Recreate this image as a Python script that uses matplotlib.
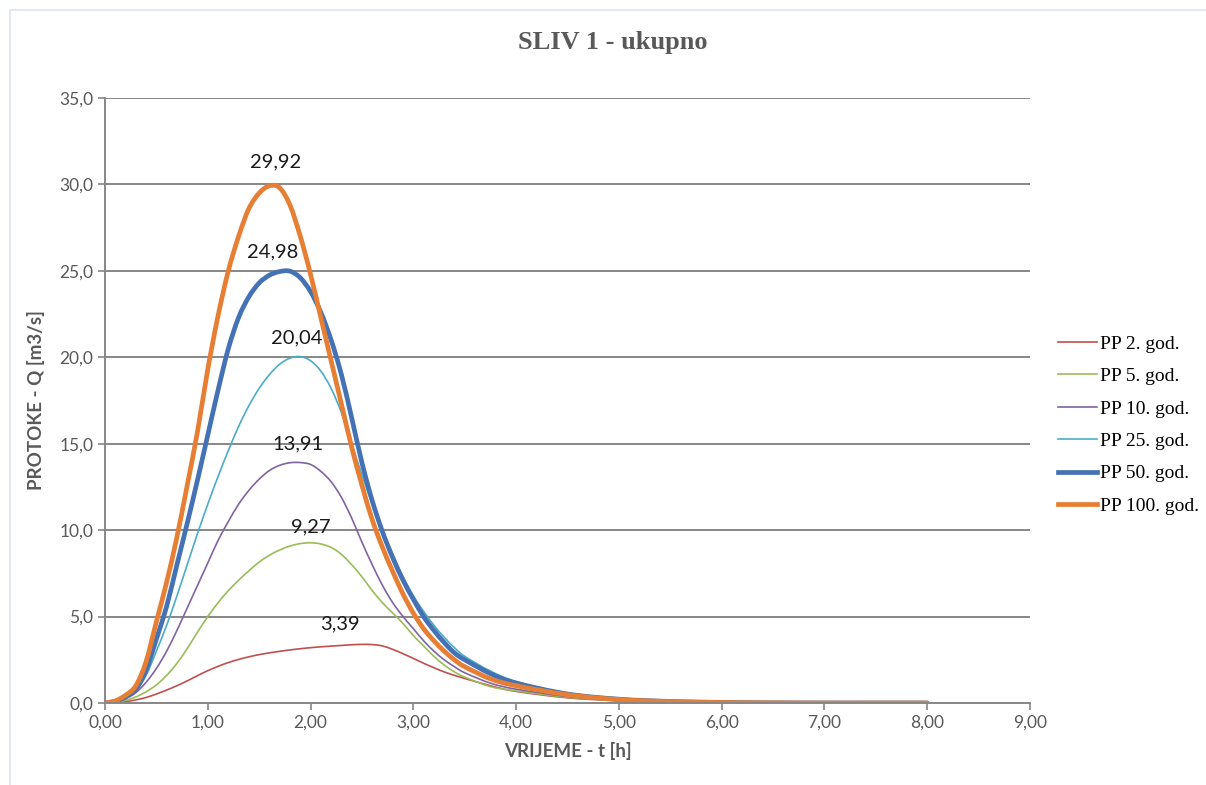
import matplotlib.pyplot as plt
from matplotlib.patches import Rectangle, PathPatch
from matplotlib.path import Path
from matplotlib.lines import Line2D
from matplotlib.ticker import FuncFormatter

# vrijeme [h]
t = [0.0, 0.1, 0.2, 0.3, 0.4, 0.5, 0.6, 0.7, 0.8, 0.9,
     1.0, 1.1, 1.2, 1.3, 1.4, 1.5, 1.6, 1.7, 1.8, 1.9,
     2.0, 2.1, 2.2, 2.3, 2.4, 2.5, 2.6, 2.7, 2.8, 2.9,
     3.0, 3.1, 3.2, 3.3, 3.4, 3.5, 3.75, 4.0, 4.5, 5.0,
     5.5, 6.0, 6.5, 7.0, 7.5, 8.0]

# protoke Q [m3/s]
q_pp2 = [0, 0.02, 0.08, 0.18, 0.32, 0.52, 0.75, 1.0, 1.28, 1.58,
         1.87, 2.12, 2.34, 2.52, 2.67, 2.8, 2.9, 2.99, 3.07, 3.14,
         3.2, 3.25, 3.29, 3.33, 3.37, 3.39, 3.38, 3.3, 3.1, 2.85,
         2.58, 2.3, 2.04, 1.8, 1.6, 1.42, 1.0, 0.67, 0.3, 0.13,
         0.05, 0.02, 0.01, 0, 0, 0]
q_pp5 = [0, 0.04, 0.15, 0.35, 0.65, 1.05, 1.6, 2.3, 3.15, 4.1,
         5.0, 5.8, 6.5, 7.1, 7.65, 8.15, 8.55, 8.85, 9.08, 9.22,
         9.27, 9.2, 9.0, 8.6, 8.0, 7.3, 6.5, 5.8, 5.2, 4.6,
         3.9, 3.3, 2.7, 2.2, 1.8, 1.5, 0.95, 0.7, 0.33, 0.15,
         0.06, 0.02, 0.01, 0, 0, 0]
q_pp10 = [0, 0.05, 0.25, 0.6, 1.2, 2.0, 3.0, 4.2, 5.5, 6.8,
          8.1, 9.4, 10.5, 11.5, 12.3, 12.95, 13.45, 13.75, 13.9, 13.91,
          13.8, 13.4, 12.8, 11.9, 10.7, 9.3, 8.0, 6.8, 5.8, 5.0,
          4.3, 3.6, 3.0, 2.5, 2.1, 1.75, 1.15, 0.8, 0.38, 0.17,
          0.07, 0.03, 0.01, 0, 0, 0]
q_pp25 = [0, 0.08, 0.3, 0.7, 1.6, 3.0, 4.5, 6.2, 8.0, 9.8,
          11.5, 13.1, 14.6, 16.0, 17.2, 18.2, 19.0, 19.6, 19.95, 20.04,
          19.8, 19.2, 18.2, 16.8, 15.0, 13.2, 11.5, 10.0, 8.6, 7.3,
          6.2, 5.3, 4.5, 3.8, 3.2, 2.7, 1.85, 1.25, 0.55, 0.24,
          0.1, 0.04, 0.015, 0, 0, 0]
q_pp50 = [0, 0.1, 0.35, 0.8, 1.9, 3.7, 5.6, 8.0, 10.4, 12.9,
          15.5, 18.1, 20.5, 22.3, 23.5, 24.3, 24.75, 24.96, 24.98, 24.6,
          23.8, 22.6, 21.0, 19.0, 16.5, 13.9, 11.7, 9.9, 8.4, 7.1,
          6.0, 5.0, 4.2, 3.5, 2.9, 2.5, 1.7, 1.15, 0.52, 0.22,
          0.09, 0.035, 0.01, 0, 0, 0]
q_pp100 = [0, 0.12, 0.45, 1.0, 2.4, 4.7, 7.0, 9.6, 12.6, 15.7,
           19.3, 22.4, 25.0, 27.0, 28.6, 29.5, 29.92, 29.8, 28.8, 27.0,
           24.8, 22.3, 19.8, 17.3, 14.8, 12.6, 10.6, 9.0, 7.6, 6.3,
           5.2, 4.3, 3.6, 3.0, 2.5, 2.1, 1.4, 1.0, 0.48, 0.2,
           0.08, 0.03, 0.01, 0, 0, 0]

series_names = ["PP 2. god.", "PP 5. god.", "PP 10. god.",
                "PP 25. god.", "PP 50. god.", "PP 100. god."]
series_data = [q_pp2, q_pp5, q_pp10, q_pp25, q_pp50, q_pp100]
colors = ["#C0504D", "#9BBB59", "#8064A2", "#4BACC6", "#4472B4", "#E67E33"]
widths = [1.2, 1.2, 1.2, 1.2, 3.4, 3.4]

peak_labels = ["3,39", "9,27", "13,91", "20,04", "24,98", "29,92"]
# mjesto natpisa (t, Q)
peak_pos = [(2.29, 4.6), (2.0, 10.2), (1.88, 15.0), (1.87, 21.1), (1.63, 26.1), (1.66, 31.3)]

grey = "#595959"


def smooth_path(x, y):
    # zaglađena linija kao u Excelu (Catmull-Rom -> Bezier)
    n = len(x)
    verts = [(x[0], y[0])]
    codes = [Path.MOVETO]
    for i in range(n - 1):
        i0 = max(i - 1, 0)
        i3 = min(i + 2, n - 1)
        c1 = (x[i] + (x[i + 1] - x[i0]) / 6, y[i] + (y[i + 1] - y[i0]) / 6)
        c2 = (x[i + 1] - (x[i3] - x[i]) / 6, y[i + 1] - (y[i3] - y[i]) / 6)
        verts += [c1, c2, (x[i + 1], y[i + 1])]
        codes += [Path.CURVE4] * 3
    return Path(verts, codes)


fig = plt.figure(figsize=(12.06, 7.85), dpi=100)
ax = fig.add_axes([105 / 1206, 1 - 703 / 785, 925 / 1206, 605 / 785])

# okvir grafikona
fig.patches.append(Rectangle((10 / 1206, -0.01), 1.0, 1 - 10 / 785 + 0.01,
                             transform=fig.transFigure, fill=False,
                             edgecolor="#dde5f0", linewidth=1.2))

handles = []
for name, q, c, w in zip(series_names, series_data, colors, widths):
    ax.add_patch(PathPatch(smooth_path(t, q), fill=False, edgecolor=c,
                           linewidth=w, capstyle="round", joinstyle="round"))
    handles.append(Line2D([], [], color=c, linewidth=w, label=name))

for txt, (x, y) in zip(peak_labels, peak_pos):
    ax.text(x, y, txt, ha="center", va="center", fontsize=14.5,
            family="Lato", color="#1a1a1a")

ax.set_xlim(0, 9)
ax.set_ylim(0, 35)
ax.set_xticks(range(0, 10))
ax.set_yticks(range(0, 36, 5))
ax.xaxis.set_major_formatter(FuncFormatter(lambda v, p: f"{v:.2f}".replace(".", ",")))
ax.yaxis.set_major_formatter(FuncFormatter(lambda v, p: f"{v:.1f}".replace(".", ",")))

ax.grid(axis="y", color="#878787", linewidth=1.4)
ax.set_axisbelow(True)
for s in ["top", "right"]:
    ax.spines[s].set_visible(False)
for s in ["left", "bottom"]:
    ax.spines[s].set_color("#878787")
    ax.spines[s].set_linewidth(1.4)
ax.tick_params(axis="both", colors="#878787", labelcolor=grey, labelsize=12.5,
               length=5, width=1.2)
for lab in ax.get_xticklabels() + ax.get_yticklabels():
    lab.set_family("Lato")

ax.set_xlabel("VRIJEME - t [h]", fontsize=13.5, fontweight="bold", color=grey,
              family="Lato", labelpad=8)
ax.set_ylabel("PROTOKE - Q [m3/s]", fontsize=13.5, fontweight="bold", color=grey,
              family="Lato", labelpad=10)

fig.text(613 / 1206, 1 - 43 / 785, "SLIV 1 - ukupno", ha="center", va="center",
         fontsize=19, fontweight="bold", color=grey, family="Liberation Serif")

fig.legend(handles=handles, loc="center left", bbox_to_anchor=(1048 / 1206, 1 - 425 / 785),
           frameon=False, prop={"family": "Liberation Serif", "size": 14},
           handlelength=2.0, handletextpad=0.2, labelspacing=0.76, borderpad=0)

fig.savefig("out.png", dpi=100)
